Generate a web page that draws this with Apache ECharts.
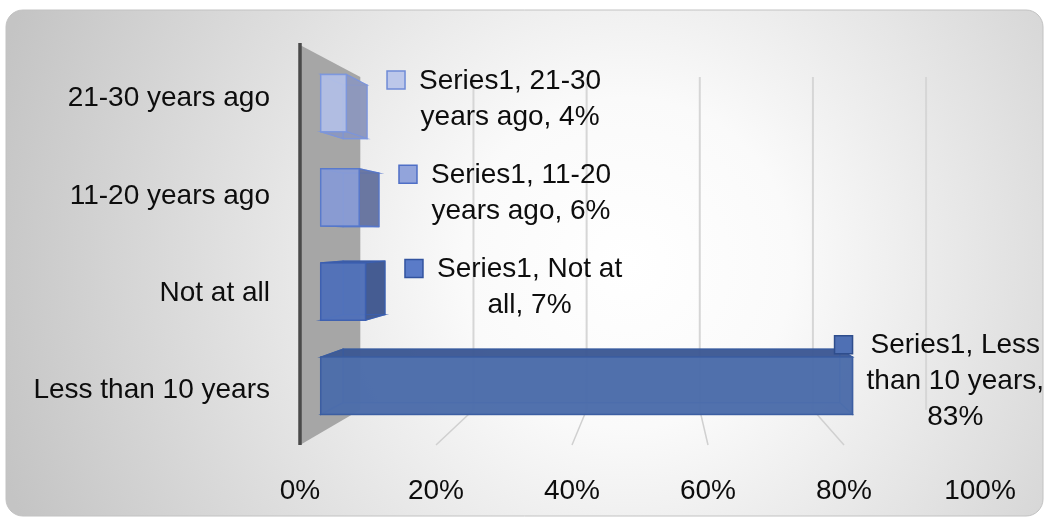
<!DOCTYPE html>
<html><head><meta charset="utf-8">
<script src="https://cdn.jsdelivr.net/npm/echarts@6/dist/echarts.min.js"></script>
<style>html,body{margin:0;padding:0;background:#fff;}#c{width:1044px;height:518px;}</style>
</head><body><div id="c"></div>
<script>
// ---------- data ----------
const seriesName = 'Series1';
const categories = ['Less than 10 years', 'Not at all', '11-20 years ago', '21-30 years ago'];
const values = [83, 7, 6, 4];            // percent
const xTicks = [0, 20, 40, 60, 80, 100];  // percent axis ticks

// ---------- style ----------
const FONT_FAMILY = '"Liberation Sans", Arial, sans-serif';
const FONT_SIZE = 28;
const FONT = FONT_SIZE + 'px ' + FONT_FAMILY;
const TEXT_COLOR = '#0d0d0d';
const LINE_H = 36;
const palette = [
  {front:'#4e6fad', dark:'#3d5994', border:'#3a5ca0', key:'#4f70b4', keyBorder:'#2e4d8c'},
  {front:'#5374bd', dark:'#40588f', border:'#3b5fb0', key:'#5a7bc8', keyBorder:'#32539f'},
  {front:'#8c9fd8', dark:'#66739f', border:'#5577cc', key:'#92a4db', keyBorder:'#4f6fc6'},
  {front:'#b5c1e7', dark:'#8d97bd', border:'#7a95de', key:'#bcc7ea', keyBorder:'#6f8bd6'}
];
// perspective parameters (relative to the grid)
const VPX = 0.528, VPY = 0.475;
const S_FRONT = 0.9423, S_BACK = 0.880, S_WALL = 0.832;
const BAR_RATIO = 0.608;

const mctx = document.createElement('canvas').getContext('2d');
mctx.font = FONT;
const tw = s => mctx.measureText(s).width;
function wrap(text, maxW) {
  const words = text.split(' ');
  const lines = [];
  let cur = '';
  words.forEach(w => {
    const t = cur ? cur + ' ' + w : w;
    if (cur && tw(t) > maxW) { lines.push(cur); cur = w; } else cur = t;
  });
  if (cur) lines.push(cur);
  return lines;
}

function projector(cs) {
  const vx = cs.x + cs.width * VPX, vy = cs.y + cs.height * VPY;
  return (x, y, s) => [vx + s * (x - vx), vy + s * (y - vy)];
}

function renderWall(params, api) {
  const cs = params.coordSys;
  const proj = projector(cs);
  const x0 = api.coord([0, 0])[0];
  const top = cs.y, bottom = cs.y + cs.height;
  const bt = proj(x0, top, S_WALL), bb = proj(x0, bottom, S_WALL);
  const children = [{
    type: 'polygon', shape: {points: [[x0, top], bt, bb, [x0, bottom]]},
    style: {fill: '#a6a6a6'}
  }];
  xTicks.forEach(t => {
    if (t === 0) return;
    const xf = api.coord([t, 0])[0];
    const a = proj(xf, top, S_WALL), b = proj(xf, bottom, S_WALL);
    children.push({type: 'line', shape: {x1: a[0], y1: a[1], x2: b[0], y2: b[1]},
      style: {stroke: '#d6d6d6', lineWidth: 2}});
    if (t < 100) {
      children.push({type: 'line', shape: {x1: xf, y1: bottom, x2: b[0], y2: b[1]},
        style: {stroke: '#d0d0d0', lineWidth: 1.5}});
    }
  });
  children.push({type: 'line', shape: {x1: x0, y1: top - 2, x2: x0, y2: bottom},
    style: {stroke: '#4a4a4a', lineWidth: 3.5}});
  return {type: 'group', children};
}

function renderBar(params, api) {
  const v = api.value(0), ci = api.value(1);
  const cs = params.coordSys;
  const proj = projector(cs);
  const p0 = api.coord([0, ci]), p1 = api.coord([v, ci]);
  const h = api.size([0, 1])[1] * BAR_RATIO / 2;
  const corners = [[p0[0], p0[1] - h], [p1[0], p1[1] - h], [p1[0], p1[1] + h], [p0[0], p0[1] + h]];
  const F = corners.map(c => proj(c[0], c[1], S_FRONT));
  const B = corners.map(c => proj(c[0], c[1], S_BACK));
  const col = palette[ci];
  const children = [];
  children.push({type: 'polygon', shape: {points: B},
    style: {fill: col.dark, opacity: 0.85, stroke: col.border, lineWidth: 1.2}});
  for (let i = 0; i < 4; i++) {
    const j = (i + 1) % 4;
    children.push({type: 'polygon', shape: {points: [F[i], F[j], B[j], B[i]]},
      style: {fill: col.dark, opacity: 0.8, stroke: col.border, lineWidth: 1.2}});
  }
  children.push({type: 'polygon', shape: {points: F},
    style: {fill: col.front, opacity: 0.88, stroke: col.border, lineWidth: 1.5}});

  // data label: "Series1, category, value%" with legend key
  const lines = wrap(seriesName + ', ' + categories[ci] + ', ' + v + '%', 200);
  const W = Math.max.apply(null, lines.map(tw));
  const KEY = 18, GAP = 14;
  const barRight = Math.max(B[1][0], F[1][0]);
  const chartW = api.getWidth();
  const keyLeft = Math.min(barRight + 20, chartW - W - KEY - GAP);
  const barCy = (F[0][1] + F[3][1]) / 2;
  const blockCy = barCy - 4;
  const firstY = blockCy - (lines.length - 1) * LINE_H / 2;
  const cx = keyLeft + KEY + GAP + W / 2;
  children.push({type: 'rect', shape: {x: keyLeft, y: firstY - KEY / 2 - 1, width: KEY, height: KEY},
    style: {fill: col.key, stroke: col.keyBorder, lineWidth: 1.5}});
  lines.forEach((ln, k) => {
    children.push({type: 'text', style: {text: ln, x: cx, y: firstY + k * LINE_H,
      align: 'center', verticalAlign: 'middle', font: FONT, fill: TEXT_COLOR}});
  });
  return {type: 'group', children};
}

const chart = echarts.init(document.getElementById('c'), null, {renderer: 'canvas'});
chart.setOption({
  animation: false,
  backgroundColor: '#ffffff',
  graphic: [{
    type: 'rect', z: -100,
    shape: {x: 6, y: 10, width: 1037, height: 506, r: 17},
    style: {
      fill: {type: 'radial', x: 0.6, y: 0.5, r: 1.3, colorStops: [
        {offset: 0, color: '#ffffff'}, {offset: 0.25, color: '#fafafa'}, {offset: 1, color: '#c4c4c4'}]},
      stroke: '#c2c2c2', lineWidth: 1
    }
  }],
  grid: [
    {left: 300, top: 45, width: 680, height: 400, containLabel: false, outerBoundsMode: 'none'},
    {left: 300, top: 50, width: 680, height: 389, containLabel: false, outerBoundsMode: 'none'}
  ],
  xAxis: [
    {type: 'value', gridIndex: 0, min: 0, max: 100, interval: 20,
      axisLine: {show: false}, axisTick: {show: false}, splitLine: {show: false},
      axisLabel: {formatter: '{value}%', fontFamily: FONT_FAMILY, fontSize: FONT_SIZE, color: TEXT_COLOR, margin: 32}},
    {type: 'value', gridIndex: 1, min: 0, max: 100, show: false}
  ],
  yAxis: [
    {type: 'category', gridIndex: 0, data: categories, show: false},
    {type: 'category', gridIndex: 1, data: categories,
      axisLine: {show: false}, axisTick: {show: false}, splitLine: {show: false},
      axisLabel: {fontFamily: FONT_FAMILY, fontSize: FONT_SIZE, color: TEXT_COLOR, margin: 30}}
  ],
  series: [
    {type: 'custom', name: 'wall', xAxisIndex: 0, yAxisIndex: 0, z: 1, silent: true, clip: false,
      data: [[0, 0]], renderItem: renderWall},
    {type: 'custom', name: seriesName, xAxisIndex: 0, yAxisIndex: 0, z: 3, clip: false,
      encode: {x: 0, y: 1},
      data: values.map((v, i) => [v, i]), renderItem: renderBar}
  ]
});
</script></body></html>
